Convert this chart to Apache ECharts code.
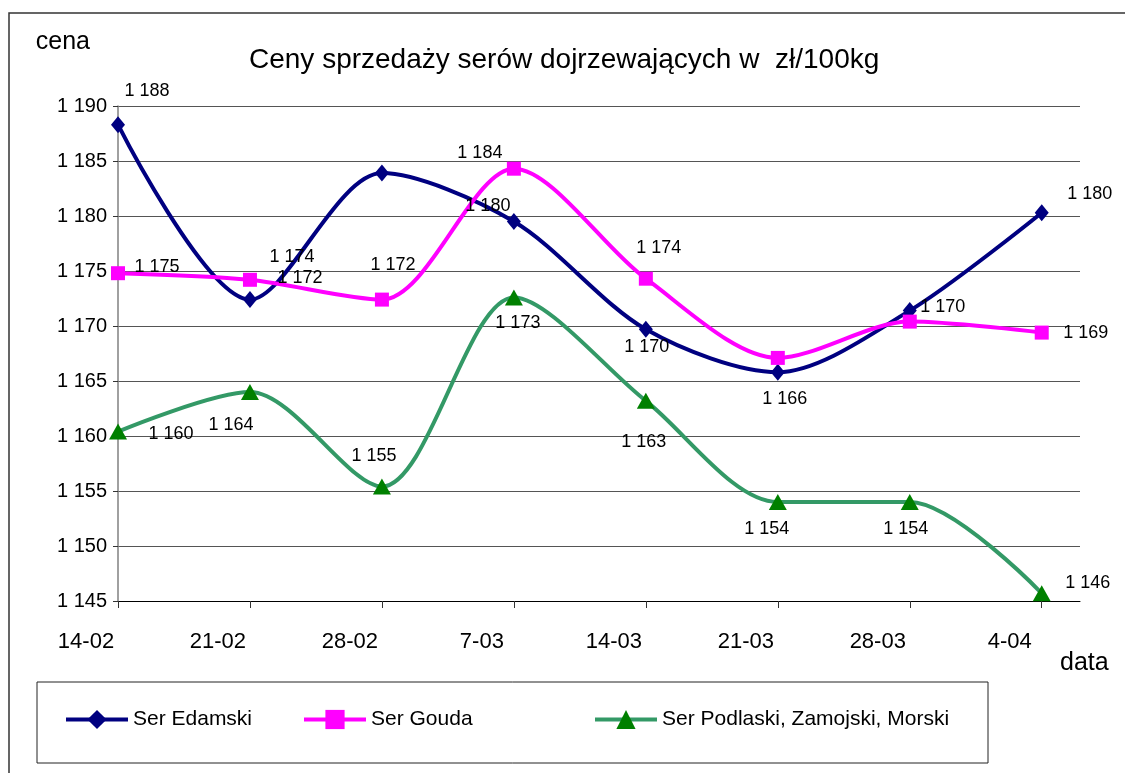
<!DOCTYPE html>
<html>
<head>
<meta charset="utf-8">
<script src="https://cdn.jsdelivr.net/npm/echarts@6/dist/echarts.min.js"></script>
<style>
    html, body { margin: 0; padding: 0; background: #fff; }
    #chart { width: 1125px; height: 773px; }
</style>
</head>
<body>
<div id="chart"></div>
<script>
// daty notowań (co tydzień)
const categories = ['14-02', '21-02', '28-02', '7-03', '14-03', '21-03', '28-03', '4-04']

// ceny w zł/100kg
const edamski = [1188.3, 1172.4, 1183.9, 1179.5, 1169.7, 1165.8, 1171.4, 1180.3]
const gouda = [1174.8, 1174.2, 1172.4, 1184.3, 1174.3, 1167.1, 1170.4, 1169.4]
const podlaski = [1160.4, 1164.0, 1155.4, 1172.6, 1163.2, 1154.0, 1154.0, 1145.7]

const yTicks = [1145, 1150, 1155, 1160, 1165, 1170, 1175, 1180, 1185, 1190]

// przesunięcia etykiet danych (null = etykieta ukryta)
const edamskiLabelPos = [[29, -34], [50, -22], null, [-26, -15], [1, 18], [7, 27], null, [48, -19]]
const goudaLabelPos = [[39, -6], [42, -23], [11, -35], [-34, -16], [13, -31], null, [33, -15], [44, 0]]
const podlaskiLabelPos = [[53, 2], [-19, 33], [-8, -31], [4, 26], [-2, 41], [-11, 27], [-4, 27], [46, -10]]

const FONT = "'Liberation Sans', Arial, sans-serif"

function fmt(v) {
    return String(Math.round(v)).replace(/\B(?=(\d{3})+(?!\d))/g, ' ')
}

function buildData(values, labelPos) {
    return values.map((v, i) => {
        const pos = labelPos[i]
        return {
            value: [i, v],
            label: pos ? { show: true, offset: pos } : { show: false }
        }
    })
}

function makeSeries(name, values, labelPos, lineColor, markColor, symbol, symbolSize) {
    return {
        name: name,
        type: 'line',
        smooth: 0.3,
        symbol: symbol,
        symbolSize: symbolSize,
        lineStyle: { color: lineColor, width: 4 },
        itemStyle: { color: markColor },
        label: {
            show: true,
            position: 'inside',
            color: '#000',
            fontFamily: FONT,
            fontSize: 18,
            formatter: p => fmt(p.value[1])
        },
        emphasis: { disabled: true },
        data: buildData(values, labelPos)
    }
}

const mychart = echarts.init(document.getElementById('chart'))

const legendBase = {
    top: 709,
    itemWidth: 62,
    itemHeight: 24,
    padding: 0,
    lineStyle: { width: 4 },
    textStyle: { fontFamily: FONT, fontSize: 21, color: '#000' },
    selectedMode: false
}

const options = {
    backgroundColor: '#fff',
    animation: false,
    title: {
        text: 'Ceny sprzedaży serów dojrzewających w  zł/100kg',
        left: 244,
        top: 41,
        textStyle: { fontFamily: FONT, fontSize: 28, fontWeight: 'normal', color: '#000' }
    },
    legend: [
        Object.assign({ left: 64, data: ['Ser Edamski'] }, legendBase),
        Object.assign({ left: 302, data: ['Ser Gouda'] }, legendBase),
        Object.assign({ left: 593, data: ['Ser Podlaski, Zamojski, Morski'] }, legendBase)
    ],
    grid: {
        left: 118,
        right: 45,
        top: 106,
        bottom: 172
    },
    xAxis: {
        type: 'value',
        min: 0,
        max: 7.29,
        interval: 1,
        name: 'data',
        nameLocation: 'end',
        nameGap: -20,
        nameTextStyle: {
            fontFamily: FONT, fontSize: 25, color: '#000',
            align: 'left', verticalAlign: 'top', padding: [50, 0, 0, 0]
        },
        splitLine: { show: false },
        axisLine: { show: true, lineStyle: { color: '#000', width: 1 } },
        axisTick: {
            show: true, length: 7,
            customValues: categories.map((c, i) => i),
            lineStyle: { color: '#333' }
        },
        axisLabel: {
            customValues: categories.map((c, i) => i),
            formatter: v => categories[v] || '',
            fontFamily: FONT,
            fontSize: 22,
            color: '#000',
            margin: 30,
            padding: [0, 64, 0, 0]
        }
    },
    yAxis: {
        type: 'value',
        min: yTicks[0],
        max: yTicks[yTicks.length - 1],
        interval: 5,
        name: 'cena',
        nameLocation: 'end',
        nameGap: 64,
        nameTextStyle: {
            fontFamily: FONT, fontSize: 25, color: '#000',
            align: 'right', verticalAlign: 'middle', padding: [0, 28, 0, 0]
        },
        axisLine: { show: true, lineStyle: { color: '#808080', width: 1.5 } },
        axisTick: { show: true, length: 5, lineStyle: { color: '#333' } },
        axisLabel: {
            formatter: v => fmt(v),
            fontFamily: FONT,
            fontSize: 20,
            color: '#000',
            margin: 11
        },
        splitLine: { show: true, lineStyle: { color: '#555', width: 1 } }
    },
    graphic: [
        {
            type: 'rect',
            shape: { x: 9, y: 13, width: 1130, height: 780 },
            style: { fill: 'none', stroke: '#333', lineWidth: 1.5 },
            silent: true
        },
        {
            type: 'rect',
            shape: { x: 37, y: 682, width: 951, height: 81 },
            style: { fill: 'none', stroke: '#222', lineWidth: 1 },
            silent: true
        }
    ],
    series: [
        makeSeries('Ser Edamski', edamski, edamskiLabelPos, '#000080', '#000080', 'diamond', [14, 17]),
        makeSeries('Ser Gouda', gouda, goudaLabelPos, '#ff00ff', '#ff00ff', 'rect', [14, 14]),
        makeSeries('Ser Podlaski, Zamojski, Morski', podlaski, podlaskiLabelPos, '#339966', '#008000', 'triangle', [18, 16])
    ]
}

mychart.setOption(options)
</script>
</body>
</html>
